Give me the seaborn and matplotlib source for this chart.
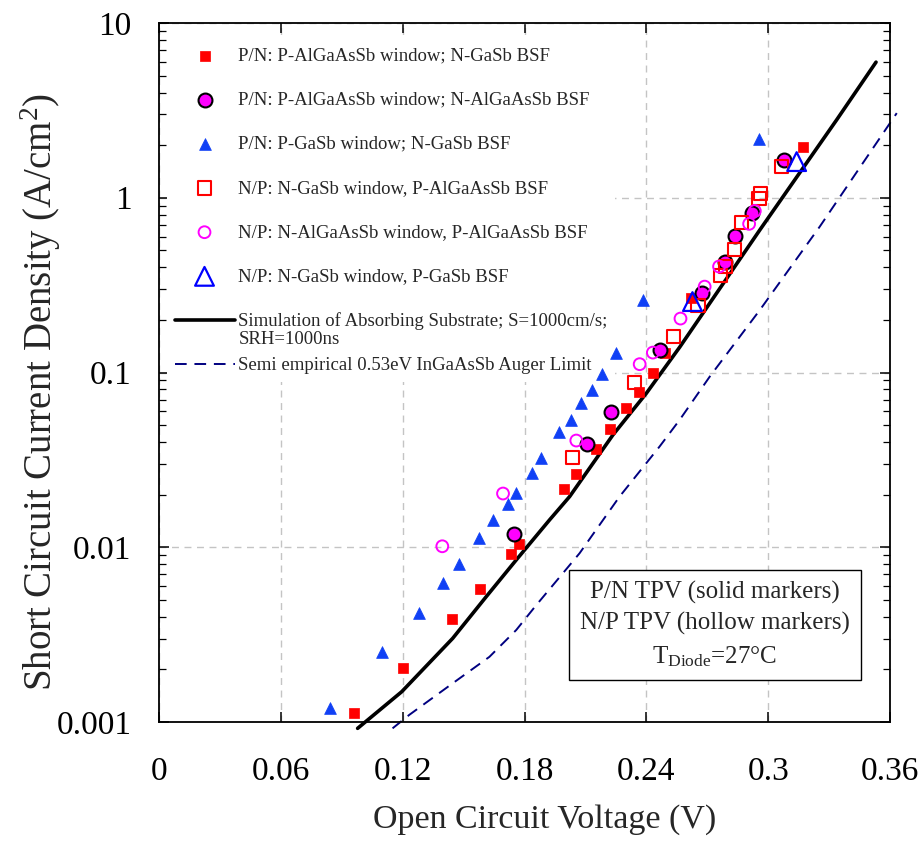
import numpy as np
import matplotlib
matplotlib.use("Agg")
import matplotlib.pyplot as plt
import seaborn as sns
from matplotlib.ticker import FixedLocator, LogLocator, NullFormatter

# ================= DATA =================
# P/N: P-AlGaAsSb window; N-GaSb BSF (solid red squares)
PN_SQ_V = [0.0958, 0.1200, 0.1441, 0.1579, 0.1732, 0.1772, 0.1994, 0.2053, 0.2151, 0.2220,
           0.2299, 0.2363, 0.2432, 0.2492, 0.2622, 0.3169]
PN_SQ_J = [0.00112, 0.00203, 0.00387, 0.00577, 0.00912, 0.01045, 0.0215, 0.0263, 0.0365, 0.0474,
           0.0625, 0.0777, 0.0991, 0.129, 0.266, 1.96]

# P/N: P-AlGaAsSb window; N-AlGaAsSb BSF (solid magenta circles)
PN_CIRC_V = [0.1746, 0.2110, 0.2227, 0.2465, 0.2676, 0.2786, 0.2835, 0.2918, 0.3077]
PN_CIRC_J = [0.01184, 0.0390, 0.0593, 0.1347, 0.2866, 0.431, 0.605, 0.823, 1.648]

# P/N: P-GaSb window; N-GaSb BSF (solid blue triangles)
PN_TRI_V = [0.0840, 0.1100, 0.1279, 0.1400, 0.1479, 0.1574, 0.1643, 0.1721, 0.1759, 0.1839,
            0.1879, 0.1969, 0.2028, 0.2079, 0.2130, 0.2181, 0.2252, 0.2383, 0.2955]
PN_TRI_J = [0.00121, 0.00253, 0.00422, 0.00622, 0.00799, 0.01126, 0.01428, 0.01762, 0.02054, 0.0265,
            0.0323, 0.0455, 0.0536, 0.0670, 0.0795, 0.0978, 0.129, 0.260, 2.17]

# N/P: N-GaSb window, P-AlGaAsSb BSF (hollow red squares)
NP_SQ_V = [0.2038, 0.2342, 0.2535, 0.2654, 0.2766, 0.2788, 0.2835, 0.2868, 0.2955, 0.2962, 0.3067]
NP_SQ_J = [0.0327, 0.0872, 0.1605, 0.2405, 0.3587, 0.404, 0.503, 0.725, 0.995, 1.053, 1.51]

# N/P: N-AlGaAsSb window, P-AlGaAsSb BSF (hollow magenta circles)
NP_CIRC_V = [0.1395, 0.1694, 0.2055, 0.2367, 0.2432, 0.2568, 0.2687, 0.2758, 0.2906, 0.2934]
NP_CIRC_J = [0.01013, 0.0203, 0.0408, 0.1116, 0.130, 0.2035, 0.310, 0.404, 0.709, 0.84]

# N/P: N-GaSb window, P-GaSb BSF (hollow blue triangles)
NP_TRI_V = [0.2627, 0.3140]
NP_TRI_J = [0.2546, 1.61]

# simulation curve and Auger limit
SIM_V = [0.0978, 0.1195, 0.1446, 0.1611, 0.1759, 0.1923, 0.2022, 0.2235, 0.2400, 0.2564,
         0.2959, 0.3337, 0.3531]
SIM_J = [0.00092, 0.00149, 0.00301, 0.00521, 0.00846, 0.01433, 0.0195, 0.0439, 0.0761, 0.1396,
         0.655, 2.79, 5.97]
AUG_V = [0.1150, 0.1233, 0.1446, 0.1627, 0.1759, 0.1858, 0.2071, 0.2268, 0.2465, 0.2564,
         0.2712, 0.2959, 0.3254, 0.3633]
AUG_J = [0.00092, 0.0011, 0.001665, 0.00236, 0.00336, 0.00467, 0.00924, 0.0195, 0.0377, 0.0536,
         0.0947, 0.228, 0.684, 3.05]

X_TICKS = [0, 0.06, 0.12, 0.18, 0.24, 0.30, 0.36]
X_TICK_LABELS = ["0", "0.06", "0.12", "0.18", "0.24", "0.3", "0.36"]
Y_TICKS = [0.001, 0.01, 0.1, 1, 10]
Y_TICK_LABELS = ["0.001", "0.01", "0.1", "1", "10"]

LABELS = [
    "P/N: P-AlGaAsSb window; N-GaSb BSF",
    "P/N: P-AlGaAsSb window; N-AlGaAsSb BSF",
    "P/N: P-GaSb window; N-GaSb BSF",
    "N/P: N-GaSb window, P-AlGaAsSb BSF",
    "N/P: N-AlGaAsSb window, P-AlGaAsSb BSF",
    "N/P: N-GaSb window, P-GaSb BSF",
    "Simulation of Absorbing Substrate; S=1000cm/s;",
    "Semi empirical 0.53eV InGaAsSb Auger Limit",
]

# ================= STYLE =================
sns.set_theme(style="ticks")
plt.rcParams["font.family"] = ["Liberation Serif", "DejaVu Serif"]
plt.rcParams["mathtext.fontset"] = "custom"
plt.rcParams["mathtext.rm"] = "Liberation Serif"
plt.rcParams["mathtext.it"] = "Liberation Serif:italic"

fig = plt.figure(figsize=(9.23, 8.42), dpi=100)
ax = fig.add_axes([0.1723, 0.1425, 0.792, 0.8302])

# ================= LINES =================
sns.lineplot(x=SIM_V, y=SIM_J, ax=ax, color="black", lw=2.6, sort=False,
             clip_on=False, zorder=2, label=LABELS[6])
sns.lineplot(x=AUG_V, y=AUG_J, ax=ax, color="#000080", lw=1.4, sort=False,
             ls=(0, (6, 4)), clip_on=False, zorder=2, label=LABELS[7])

# ================= MARKERS =================
sns.scatterplot(x=PN_SQ_V, y=PN_SQ_J, ax=ax, marker="s", s=7.8**2,
                facecolor="#ff0000", edgecolor="#ff0000", linewidth=0.5, zorder=3, label=LABELS[0])
sns.scatterplot(x=PN_CIRC_V, y=PN_CIRC_J, ax=ax, marker="o", s=10**2,
                facecolor="#ff00ff", edgecolor="black", linewidth=1.5, zorder=3, label=LABELS[1])
sns.scatterplot(x=PN_TRI_V, y=PN_TRI_J, ax=ax, marker="^", s=8.5**2,
                facecolor="#1040f5", edgecolor="#1040f5", linewidth=0.5, zorder=3, label=LABELS[2])
sns.scatterplot(x=NP_SQ_V, y=NP_SQ_J, ax=ax, marker="s", s=9.5**2,
                facecolor="none", edgecolor="#ff0000", linewidth=1.5, zorder=3, label=LABELS[3])
sns.scatterplot(x=NP_CIRC_V, y=NP_CIRC_J, ax=ax, marker="o", s=8.5**2,
                facecolor="none", edgecolor="#ff00ff", linewidth=1.4, zorder=3, label=LABELS[4])
sns.scatterplot(x=NP_TRI_V, y=NP_TRI_J, ax=ax, marker="^", s=13.5**2,
                facecolor="none", edgecolor="#0000ff", linewidth=1.6, zorder=3, label=LABELS[5])

# ================= AXES =================
ax.set_yscale("log")
ax.set_xlim(0, 0.36)
ax.set_ylim(0.001, 10)
ax.xaxis.set_major_locator(FixedLocator(X_TICKS))
ax.set_xticklabels(X_TICK_LABELS)
ax.yaxis.set_major_locator(FixedLocator(Y_TICKS))
ax.set_yticklabels(Y_TICK_LABELS)
ax.yaxis.set_minor_locator(LogLocator(base=10, subs=np.arange(2, 10)))
ax.yaxis.set_minor_formatter(NullFormatter())

ax.tick_params(which="both", direction="in", top=True, right=True, colors="black")
ax.tick_params(which="major", length=7, width=1.1, labelsize=24)
ax.tick_params(which="minor", length=5, width=0.9)
ax.tick_params(axis="x", which="major", pad=25)
ax.tick_params(axis="y", which="major", pad=20)

for sp in ax.spines.values():
    sp.set_color("black")
    sp.set_linewidth(1.3)

ax.grid(True, which="major", color="#c4c4c4", ls=(0, (5, 4)), lw=1.0)
ax.set_axisbelow(True)

ax.set_xlabel("Open Circuit Voltage (V)", fontsize=24.5)
ax.xaxis.set_label_coords(0.527, -0.117)
ax.set_ylabel("Short Circuit Current Density (A/cm$^2$)", fontsize=28)
ax.yaxis.set_label_coords(-0.131, 0.472)

# ================= LEGEND =================
handles, labels = ax.get_legend_handles_labels()
order = [labels.index(l) for l in LABELS]
leg = ax.legend([handles[i] for i in order], [labels[i] for i in order],
                loc="upper left", bbox_to_anchor=(167 / 923, 1 - 40 / 842),
                bbox_transform=fig.transFigure, fontsize=13.5, frameon=True,
                facecolor="white", edgecolor="none", framealpha=1, fancybox=False,
                borderpad=0.4, borderaxespad=0, handlelength=3.2, handletextpad=0.2,
                labelspacing=1.44, scatterpoints=1)
leg.set_zorder(2.5)
fig.text(239 / 923, 1 - 340 / 842, "SRH=1000ns", fontsize=13.5, va="center", ha="left")

# ================= ANNOTATION =================
ax.text(0.7606, 0.1388,
        "P/N TPV (solid markers)\nN/P TPV (hollow markers)\nT$_{\\mathrm{Diode}}$=27\u00b0C",
        transform=ax.transAxes, ha="center", va="center", multialignment="center",
        fontsize=18, linespacing=1.45, zorder=6,
        bbox=dict(boxstyle="square,pad=0.45", facecolor="white", edgecolor="black", lw=1.0))

fig.savefig("out.png", dpi=100)
plt.close(fig)
